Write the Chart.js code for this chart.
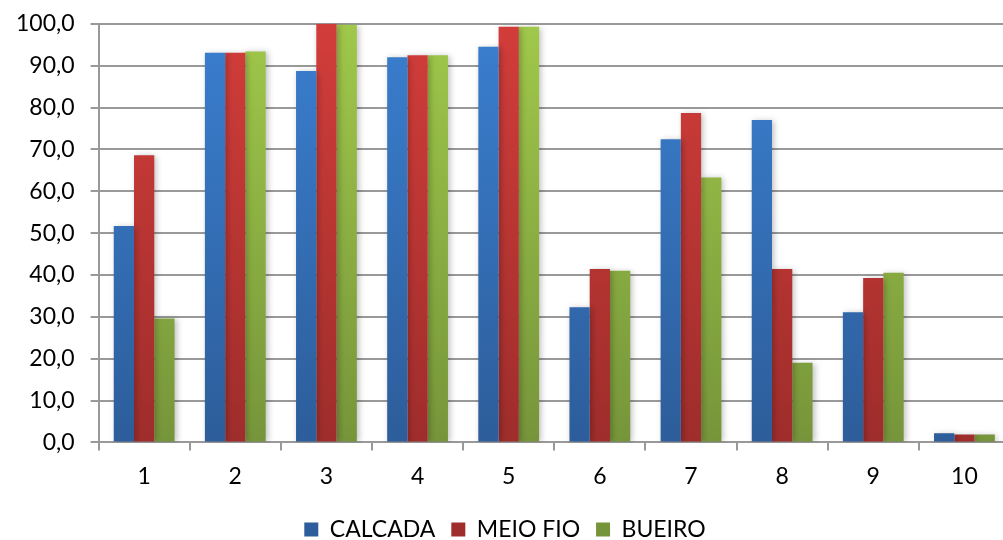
<!DOCTYPE html>
<html>
<head>
<meta charset="utf-8">
<script src="https://cdn.jsdelivr.net/npm/chart.js@4/dist/chart.umd.min.js"></script>
<style>
  html, body { margin: 0; padding: 0; background: #fff; overflow: hidden; }
  #wrap { width: 1010px; height: 546px; margin-top: -6px; }
</style>
</head>
<body>
<div id="wrap"><canvas id="chart"></canvas></div>
<script>
const categories = ["1", "2", "3", "4", "5", "6", "7", "8", "9", "10"];
const calcada = [51.7, 93.1, 88.7, 92.0, 94.5, 32.3, 72.4, 77.0, 31.1, 2.2];
const meioFio = [68.6, 93.1, 100.0, 92.5, 99.3, 41.4, 78.7, 41.4, 39.3, 1.9];
const bueiro = [29.6, 93.4, 99.8, 92.5, 99.3, 41.0, 63.3, 19.0, 40.5, 1.9];

const font = "Lato, 'Open Sans', sans-serif";

// vertical gradient like the office style bars: lighter top, darker bottom
function grad(top, bottom) {
    return (ctx) => {
        const area = ctx.chart.chartArea;
        if (!area) return top;
        const g = ctx.chart.ctx.createLinearGradient(0, area.top, 0, area.bottom);
        g.addColorStop(0, top);
        g.addColorStop(1, bottom);
        return g;
    };
}

const shadow = {
    id: "shadow",
    beforeDatasetsDraw(chart) {
        const c = chart.ctx;
        c.save();
        c.shadowColor = "rgba(0,0,0,0.25)";
        c.shadowBlur = 6;
        c.shadowOffsetX = 2;
        c.shadowOffsetY = 1;
    },
    afterDatasetsDraw(chart) {
        chart.ctx.restore();
    }
};

new Chart(document.getElementById("chart"), {
    type: "bar",
    data: {
        labels: categories,
        datasets: [
            { label: "CALCADA", data: calcada, backgroundColor: grad("#3a7fd0", "#2d5d9a") },
            { label: "MEIO FIO", data: meioFio, backgroundColor: grad("#d23d3a", "#9e2d2b") },
            { label: "BUEIRO", data: bueiro, backgroundColor: grad("#a0c84a", "#76953a") }
        ]
    },
    options: {
        responsive: true,
        maintainAspectRatio: false,
        animation: false,
        datasets: { bar: { categoryPercentage: 0.667, barPercentage: 1.0 } },
        layout: { padding: { top: 3, right: 0, left: 0, bottom: -11 } },
        plugins: {
            tooltip: { enabled: false },
            legend: {
                position: "bottom",
                labels: {
                    font: { family: font, size: 23 },
                    color: "#000",
                    boxWidth: 14,
                    boxHeight: 14,
                    padding: 16
                }
            }
        },
        scales: {
            x: {
                grid: { drawOnChartArea: false, drawTicks: true, tickLength: 8, color: "#999", lineWidth: 2 },
                border: { color: "#999", width: 2 },
                ticks: { font: { family: font, size: 23 }, color: "#000", padding: 12 }
            },
            y: {
                min: 0,
                max: 100,
                grid: { color: "#999", lineWidth: 2, tickLength: 8 },
                border: { color: "#999", width: 2 },
                ticks: {
                    stepSize: 10,
                    font: { family: font, size: 23 },
                    color: "#000",
                    padding: 16,
                    callback: (v) => v.toFixed(1).replace(".", ",")
                }
            }
        }
    },
    plugins: [shadow]
});
</script>
</body>
</html>
